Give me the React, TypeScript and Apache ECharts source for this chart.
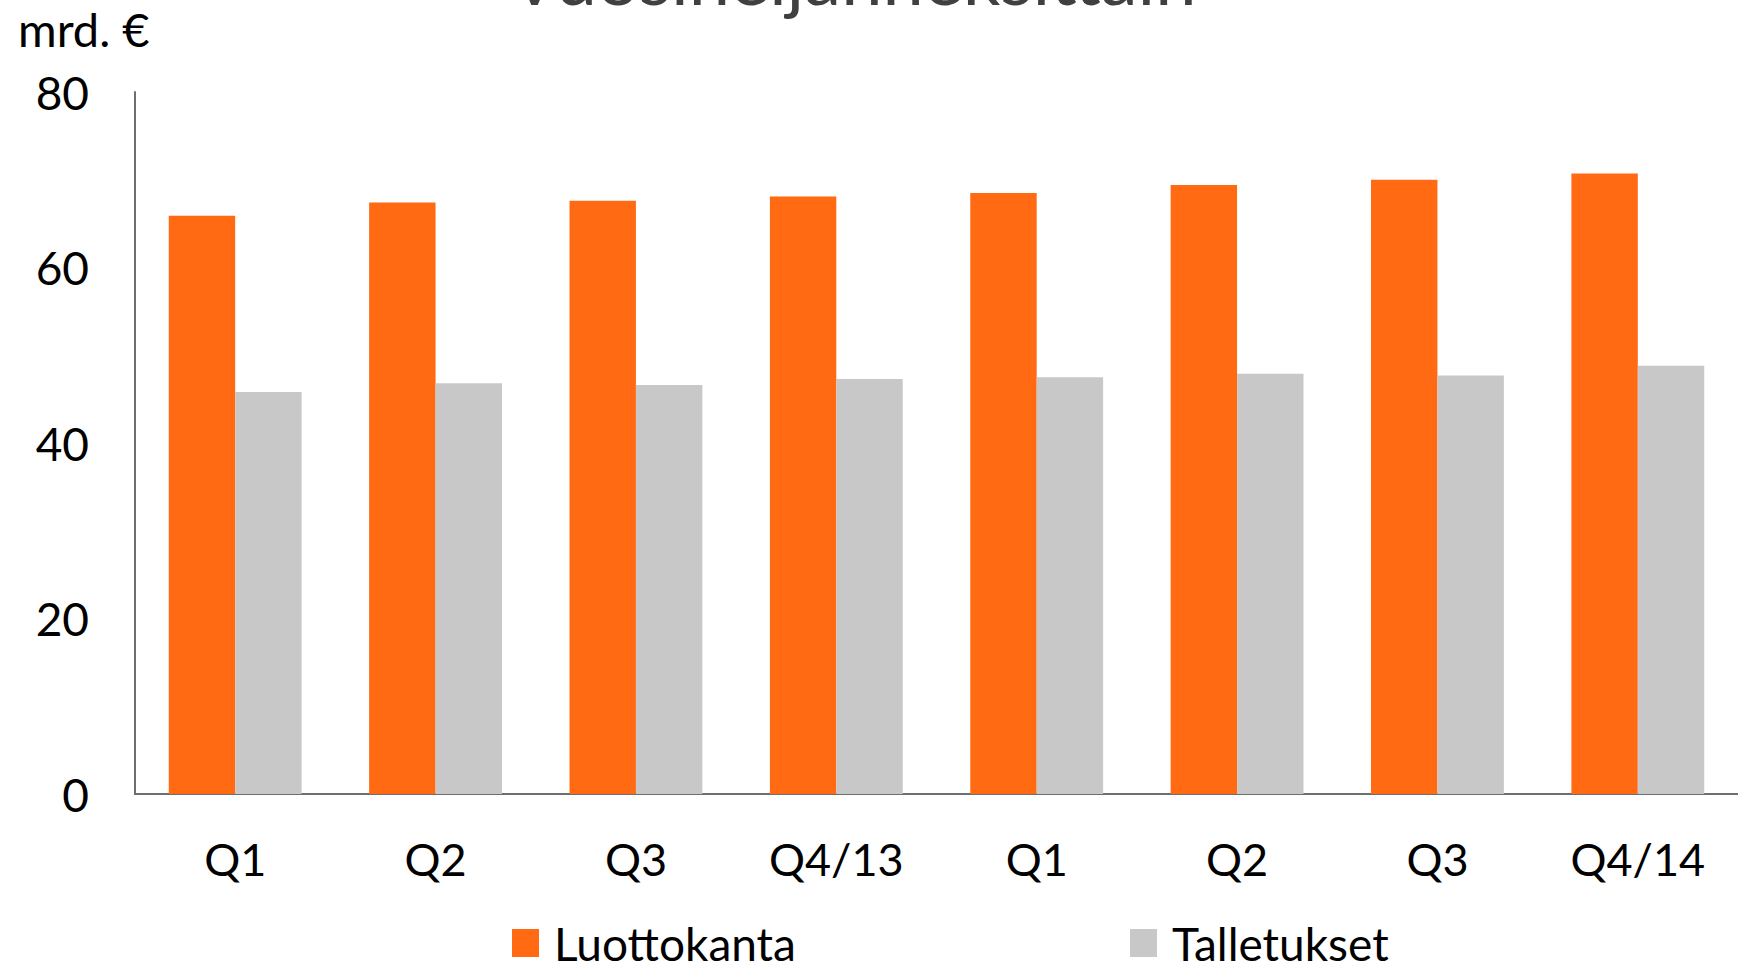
import React, { useEffect, useRef } from "react";
import * as echarts from "echarts";

const categories = ["Q1", "Q2", "Q3", "Q4/13", "Q1", "Q2", "Q3", "Q4/14"];
const luottokanta = [65.9, 67.4, 67.6, 68.1, 68.5, 69.4, 70.0, 70.7];
const talletukset = [45.8, 46.8, 46.6, 47.3, 47.5, 47.9, 47.7, 48.8];
const yTicks = { min: 0, max: 80, interval: 20 };
const seriesNames = ["Luottokanta", "Talletukset"];
const titleText = "Vuosineljänneksittäin";
const unitText = "mrd. €";

const FONT = "Lato, 'Open Sans', sans-serif";
const ORANGE = "#FF6A13";
const GRAY = "#C8C8C8";

export default function App() {
  const ref = useRef<HTMLDivElement>(null);
  useEffect(() => {
    if (!ref.current) return;
    const chart = echarts.init(ref.current, null, { renderer: "svg" });
    const legendText = {
      fontSize: 46,
      color: "#000",
      fontFamily: FONT,
      padding: [0, 0, 0, 10],
    };
    chart.setOption({
      animation: false,
      backgroundColor: "#ffffff",
      textStyle: { fontFamily: FONT },
      grid: { left: 135, right: -5, top: 92, bottom: 174, containLabel: false },
      legend: [
        {
          data: [seriesNames[0]],
          left: 512,
          top: 920,
          padding: 0,
          itemWidth: 27,
          itemHeight: 28,
          icon: "rect",
          textStyle: legendText,
        },
        {
          data: [seriesNames[1]],
          left: 1130,
          top: 920,
          padding: 0,
          itemWidth: 27,
          itemHeight: 28,
          icon: "rect",
          textStyle: legendText,
        },
      ],
      xAxis: {
        type: "category",
        data: categories,
        axisLine: { show: true, lineStyle: { color: "#6e6e6e", width: 2 } },
        axisTick: { show: false },
        axisLabel: { fontSize: 45, color: "#000", margin: 42, fontFamily: FONT },
        splitLine: { show: false },
      },
      yAxis: {
        type: "value",
        min: yTicks.min,
        max: yTicks.max,
        interval: yTicks.interval,
        axisLine: { show: true, lineStyle: { color: "#6e6e6e", width: 2 } },
        axisTick: { show: false },
        axisLabel: { fontSize: 46, color: "#000", margin: 46, fontFamily: FONT },
        splitLine: { show: false },
      },
      graphic: [
        {
          type: "text",
          x: 18,
          y: 29,
          style: {
            text: unitText,
            font: `47px ${FONT}`,
            fill: "#000",
            verticalAlign: "middle",
            align: "left",
          },
        },
        {
          type: "text",
          x: 853,
          y: -24,
          style: {
            text: titleText,
            font: `74px ${FONT}`,
            fill: "#404040",
            verticalAlign: "middle",
            align: "center",
          },
        },
      ],
      series: [
        {
          name: seriesNames[0],
          type: "bar",
          data: luottokanta,
          itemStyle: { color: ORANGE },
          barGap: "0%",
          barCategoryGap: "33.7%",
        },
        {
          name: seriesNames[1],
          type: "bar",
          data: talletukset,
          itemStyle: { color: GRAY },
          barGap: "0%",
          barCategoryGap: "33.7%",
        },
      ],
    });
    return () => chart.dispose();
  }, []);
  return (
    <div
      ref={ref}
      style={{ position: "fixed", left: 0, top: 0, width: 1738, height: 968 }}
    />
  );
}
